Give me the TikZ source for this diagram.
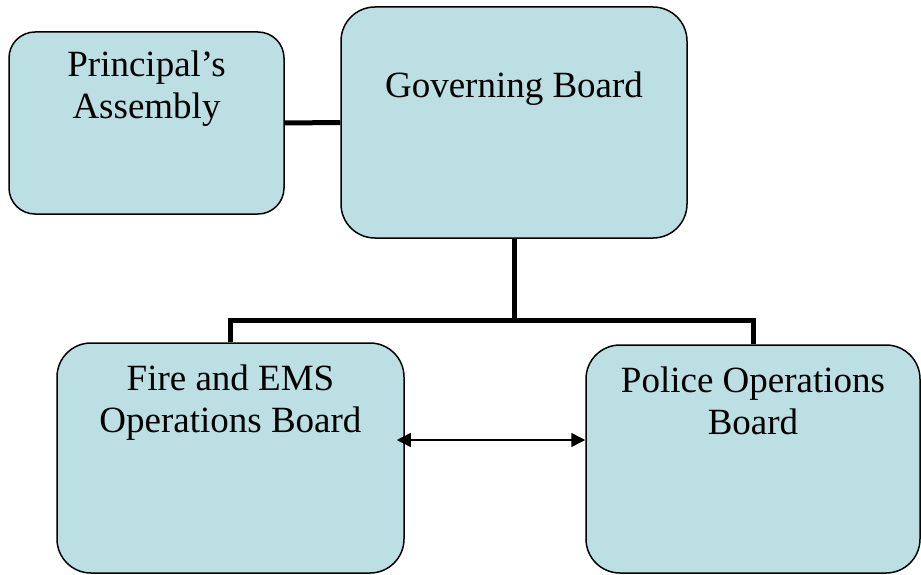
\documentclass[tikz,border=0pt]{standalone}
\usepackage{fontspec}
\setmainfont{Liberation Serif}
\usepackage{tikz}
\usetikzlibrary{arrows.meta,positioning,calc}
\definecolor{obfill}{HTML}{BBDFE3}
\definecolor{obink}{HTML}{000000}

\begin{document}
\begin{tikzpicture}[x=1pt,y=-1pt,
    board/.style={draw=obink,line width=1.5pt,fill=obfill,rounded corners=30pt,inner sep=0pt},
    boardtxt/.style={font=\fontsize{37}{42}\selectfont,align=center,inner sep=0pt,anchor=north,text=obink},
    link/.style={draw=obink,line width=5pt},
    twoway/.style={draw=obink,line width=1.5pt,{Triangle[length=14pt,width=14pt]}-{Triangle[length=14pt,width=14pt]}}]
  \useasboundingbox (0,0) rectangle (921,575);
  % boxes
  \node[board,minimum width=275pt,minimum height=182pt,rounded corners=26pt] (pa) at (146.5,123) {};
  \node[board,minimum width=346pt,minimum height=231pt,rounded corners=34pt] (gb) at (514,122.5) {};
  \node[board,minimum width=347pt,minimum height=230pt,rounded corners=34pt] (fe) at (230.5,458) {};
  \node[board,minimum width=334pt,minimum height=228pt,rounded corners=34pt] (po) at (753,459) {};
  % texts
  \node[boardtxt,below=19.5pt of pa.north] (patxt) {Principal’s\\Assembly};
  \node[boardtxt,below=65pt of gb.north] (gbtxt) {Governing Board};
  \node[boardtxt,below=22.5pt of fe.north] (fetxt) {Fire and EMS\\Operations Board};
  \node[boardtxt,below=22.5pt of po.north] (potxt) {Police Operations\\Board};
  % connectors
  \coordinate (bus) at (gb.south |- 0,320);
  \draw[link] (pa.east) -- (gb.west);
  \draw[link] (gb.south) -- (bus);
  \draw[link] (fe.north) |- (bus) -| (po.north);
  \draw[twoway,shorten <=-8pt] ([yshift=18pt]fe.east) -- ([yshift=18pt]fe.east -| po.west);
\end{tikzpicture}
\end{document}
